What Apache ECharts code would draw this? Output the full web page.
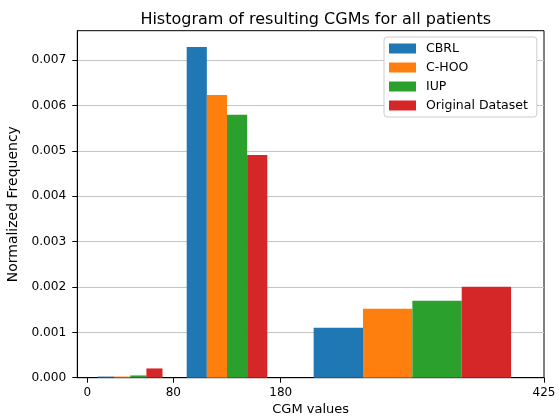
<!DOCTYPE html>
<html>
<head>
<meta charset="utf-8">
<script src="https://cdn.jsdelivr.net/npm/echarts@6/dist/echarts.min.js"></script>
<style>
  html, body { margin: 0; padding: 0; background: #fff; }
  #main { width: 559px; height: 417px; }
</style>
</head>
<body>
<div id="main"></div>
<script>
// histogram bins (CGM values) and normalized frequency per bin
var binEdges = [0, 80, 180, 425];
var seriesNames = ['CBRL', 'C-HOO', 'IUP', 'Original Dataset'];
var cbrl = [0.000025, 0.00729, 0.0011];
var choo = [0.000025, 0.006235, 0.001521];
var iup = [0.00005, 0.005796, 0.001697];
var original = [0.000204, 0.004912, 0.002005];
var xTicks = [0, 80, 180, 425];
var yTicks = [0, 0.001, 0.002, 0.003, 0.004, 0.005, 0.006, 0.007];

var colors = ['#1f77b4', '#ff7f0e', '#2ca02c', '#d62728'];
var allValues = [cbrl, choo, iup, original];
var rwidth = 0.75;
var font = 'DejaVu Sans';

// side-by-side bars inside each bin, like matplotlib hist with several datasets
function histData(values, k) {
    var n = allValues.length;
    var out = [];
    for (var i = 0; i < values.length; i++) {
        var w = binEdges[i + 1] - binEdges[i];
        var bw = w * rwidth / n;
        var start = binEdges[i] + w * (1 - rwidth) / 2 + k * bw;
        out.push([start, start + bw, values[i]]);
    }
    return out;
}

function renderItem(params, api) {
    var p0 = api.coord([api.value(0), api.value(2)]);
    var p1 = api.coord([api.value(1), 0]);
    return {
        type: 'rect',
        shape: { x: p0[0], y: p0[1], width: p1[0] - p0[0], height: p1[1] - p0[1] },
        style: api.style()
    };
}

var myChart = echarts.init(document.getElementById('main'));

var option = {
    animation: false,
    backgroundColor: '#fff',
    textStyle: { fontFamily: font },
    title: {
        text: 'Histogram of resulting CGMs for all patients',
        left: 310.7,
        textAlign: 'center',
        top: 7,
        textStyle: { fontFamily: font, fontSize: 16, fontWeight: 'normal', color: '#000' }
    },
    legend: {
        orient: 'vertical',
        left: 384,
        top: 37,
        padding: [5, 9, 5, 5],
        itemWidth: 27,
        itemHeight: 10,
        itemGap: 6,
        icon: 'rect',
        borderColor: '#cccccc',
        borderWidth: 1,
        borderRadius: 3,
        backgroundColor: '#fff',
        textStyle: { fontFamily: font, fontSize: 12.5, color: '#000', padding: [0, 0, 0, 5] },
        data: seriesNames
    },
    grid: {
        left: 77.3,
        right: 15,
        top: 30.7,
        bottom: 39.3,
        outerBoundsMode: 'none',
        containLabel: false,
        show: true,
        borderColor: '#000',
        borderWidth: 1,
        backgroundColor: 'transparent'
    },
    xAxis: {
        type: 'value',
        min: -9.3,
        max: 425,
        name: 'CGM values',
        nameLocation: 'middle',
        nameGap: 25,
        nameTextStyle: { fontFamily: font, fontSize: 13, color: '#000' },
        axisLine: { onZero: false, lineStyle: { color: '#000', width: 1 } },
        axisTick: { show: true, length: 5, customValues: xTicks, lineStyle: { color: '#000' } },
        axisLabel: { customValues: xTicks, margin: 9, fontFamily: font, fontSize: 12, color: '#000' },
        splitLine: { show: false }
    },
    yAxis: {
        type: 'value',
        min: 0,
        max: 0.00765,
        interval: 0.001,
        name: 'Normalized Frequency',
        nameLocation: 'middle',
        nameGap: 53,
        nameTextStyle: { fontFamily: font, fontSize: 14, color: '#000' },
        axisLine: { show: true, onZero: false, lineStyle: { color: '#000', width: 1 } },
        axisTick: { show: true, length: 5, customValues: yTicks, lineStyle: { color: '#000' } },
        axisLabel: {
            customValues: yTicks,
            margin: 11,
            fontFamily: font,
            fontSize: 12.2,
            color: '#000',
            formatter: function (v) { return v.toFixed(3); }
        },
        splitLine: { show: true, lineStyle: { color: '#c4c4c4', width: 1 } }
    },
    series: []
};

seriesNames.forEach(function (name, k) {
    option.series.push({
        name: name,
        type: 'custom',
        renderItem: renderItem,
        itemStyle: { color: colors[k] },
        encode: { x: [0, 1], y: 2 },
        data: histData(allValues[k], k)
    });
});

myChart.setOption(option);
</script>
</body>
</html>
